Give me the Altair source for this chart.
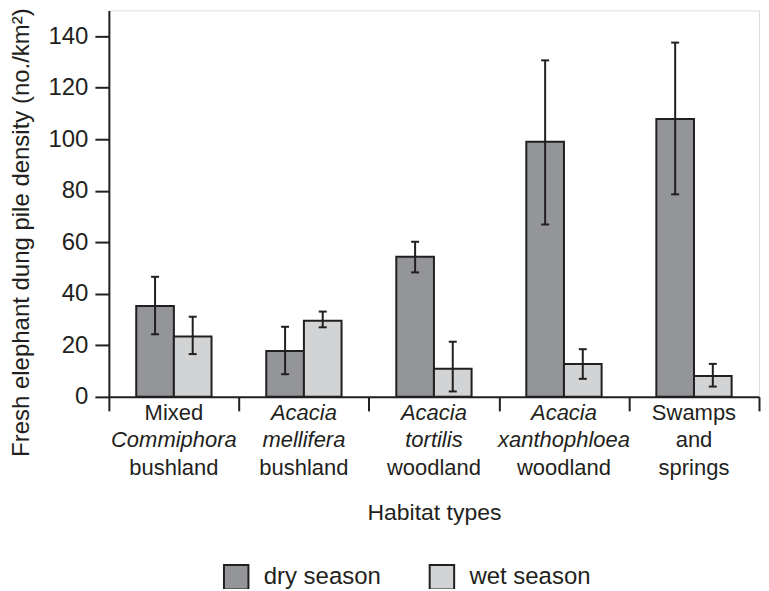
import altair as alt
import pandas as pd

# ---------------- data ----------------
categories = [
    "Mixed Commiphora bushland",
    "Acacia mellifera bushland",
    "Acacia tortilis woodland",
    "Acacia xanthophloea woodland",
    "Swamps and springs",
]
seasons = ["dry season", "wet season"]

dry_mean = [35.3, 17.8, 54.4, 99.0, 107.8]
dry_low = [24.3, 8.8, 48.3, 66.9, 78.6]
dry_high = [46.6, 27.2, 60.2, 130.6, 137.5]

wet_mean = [23.4, 29.5, 10.9, 12.8, 8.1]
wet_low = [16.6, 27.0, 2.1, 7.0, 4.0]
wet_high = [31.1, 33.1, 21.4, 18.5, 12.8]

label_lines = [
    ["Mixed", "Commiphora", "bushland"],
    ["Acacia", "mellifera", "bushland"],
    ["Acacia", "tortilis", "woodland"],
    ["Acacia", "xanthophloea", "woodland"],
    ["Swamps", "and", "springs"],
]
label_italic = [
    [False, True, False],
    [True, True, False],
    [True, True, False],
    [True, True, False],
    [False, False, False],
]

y_ticks = [0, 20, 40, 60, 80, 100, 120, 140]

# ---------------- tables ----------------
rows = []
for i, c in enumerate(categories):
    rows.append({"habitat": c, "season": seasons[0], "mean": dry_mean[i],
                 "low": dry_low[i], "high": dry_high[i]})
    rows.append({"habitat": c, "season": seasons[1], "mean": wet_mean[i],
                 "low": wet_low[i], "high": wet_high[i]})
df = pd.DataFrame(rows)

lab_rows = []
for i, c in enumerate(categories):
    for j, (t, it) in enumerate(zip(label_lines[i], label_italic[i])):
        lab_rows.append({"habitat": c, "line": j, "text": t, "italic": it})
labels_df = pd.DataFrame(lab_rows)

# ---------------- style ----------------
W, H = 651, 387
INK = "#231f20"
DRY = "#939598"
WET = "#d1d3d4"
FONT = "Liberation Sans"

x_enc = alt.X(
    "habitat:N",
    sort=categories,
    scale=alt.Scale(domain=categories, paddingInner=0, paddingOuter=0),
    axis=alt.Axis(
        labels=False, title="Habitat types", tickBand="extent",
        tickSize=14, tickWidth=2, tickColor=INK,
        domainColor=INK, domainWidth=2,
        titleFont=FONT, titleFontSize=23, titleFontWeight="normal",
        titleColor=INK, titleY=116, titleBaseline="middle",
    ),
)
xoff_enc = alt.XOffset(
    "season:N",
    scale=alt.Scale(domain=seasons, paddingInner=0, paddingOuter=0.727),
)
y_scale = alt.Scale(domain=[0, 150], nice=False)

base = alt.Chart(df)

bars = base.mark_bar(stroke=INK, strokeWidth=2).encode(
    x=x_enc,
    xOffset=xoff_enc,
    y=alt.Y(
        "mean:Q", scale=y_scale,
        axis=alt.Axis(
            values=y_ticks, grid=False,
            title="Fresh elephant dung pile density (no./km²)",
            tickSize=14, tickWidth=2, tickColor=INK,
            domainColor=INK, domainWidth=2,
            labelFont=FONT, labelFontSize=24, labelColor=INK, labelPadding=7,
            titleFont=FONT, titleFontSize=24, titleFontWeight="normal",
            titleColor=INK, titleX=-87, titleY=222, titleBaseline="middle",
        ),
    ),
    color=alt.Color(
        "season:N",
        scale=alt.Scale(domain=seasons, range=[DRY, WET]),
        legend=alt.Legend(
            orient="none", legendX=114, legendY=554, direction="horizontal",
            title=None, symbolType="square", symbolSize=600,
            symbolStrokeColor=INK, symbolStrokeWidth=2, symbolOpacity=1,
            labelFont=FONT, labelFontSize=24, labelColor=INK,
            labelOffset=14, columnPadding=44,
        ),
    ),
)

err = base.mark_rule(color=INK, strokeWidth=2).encode(
    x=x_enc, xOffset=xoff_enc,
    y=alt.Y("low:Q", scale=y_scale), y2="high:Q",
)
cap_lo = base.mark_tick(color=INK, thickness=2, size=8, opacity=1).encode(
    x=x_enc, xOffset=xoff_enc, y=alt.Y("low:Q", scale=y_scale),
)
cap_hi = base.mark_tick(color=INK, thickness=2, size=8, opacity=1).encode(
    x=x_enc, xOffset=xoff_enc, y=alt.Y("high:Q", scale=y_scale),
)

lab_base = alt.Chart(labels_df).transform_calculate(
    ypos=f"{H} + 16 + 27.5 * datum.line"
)
lab_norm = lab_base.transform_filter("!datum.italic").mark_text(
    font=FONT, fontSize=22, color=INK, baseline="middle", align="center"
).encode(x=x_enc, y=alt.Y("ypos:Q", scale=None), text="text:N")
lab_ital = lab_base.transform_filter("datum.italic").mark_text(
    font=FONT, fontSize=22, color=INK, baseline="middle", align="center",
    fontStyle="italic",
).encode(x=x_enc, y=alt.Y("ypos:Q", scale=None), text="text:N")

chart = alt.layer(bars, err, cap_lo, cap_hi, lab_norm, lab_ital).properties(
    width=W, height=H,
    autosize=alt.AutoSizeParams(type="none"),
    padding={"left": 101, "top": 2, "right": 2, "bottom": 192},
).configure_view(stroke=None).configure(background="white")

chart.save("out.html", embed_options={"renderer": "svg", "actions": False})
